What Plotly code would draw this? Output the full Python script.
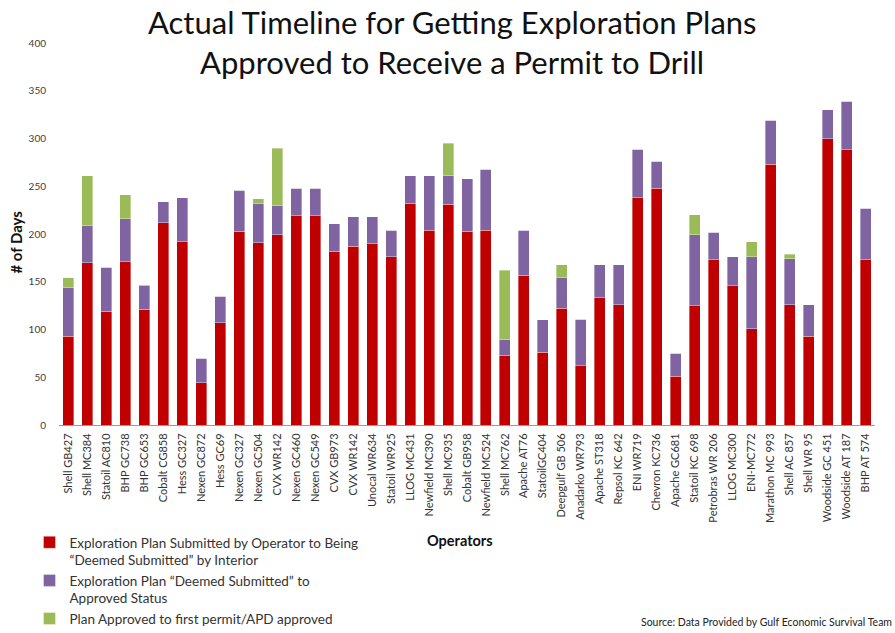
import plotly.graph_objects as go

operators = ["Shell GB427", "Shell MC384", "Statoil AC810", "BHP GC738", "BHP GC653",
             "Cobalt CG858", "Hess GC327", "Nexen GC872", "Hess GC69", "Nexen GC327",
             "Nexen GC504", "CVX WR142", "Nexen GC460", "Nexen GC549", "CVX GB973",
             "CVX WR142", "Unocal WR634", "Statoil WR925", "LLOG MC431", "Newfield MC390",
             "Shell MC935", "Cobalt GB958", "Newfield MC524", "Shell MC762", "Apache AT76",
             "StatoilGC404", "Deepgulf GB 506", "Anadarko WR793", "Apache ST318", "Repsol KC 642",
             "ENI WR719", "Chevron KC736", "Apache GC681", "Statoil KC 698", "Petrobras WR 206",
             "LLOG MC300", "ENI-MC772", "Marathon MC 993", "Shell AC 857", "Shell WR 95",
             "Woodside GC 451", "Woodside AT 187", "BHP AT 574"]

# cumulative tops
red_top = [93, 170, 119, 171, 121, 212, 192, 44, 107, 203,
           191, 199, 219, 219, 182, 187, 190, 176, 232, 204,
           231, 203, 204, 73, 157, 76, 122, 62, 133, 126,
           238, 248, 51, 125, 173, 146, 101, 273, 126, 93,
           300, 288, 173]
purple_top = [144, 209, 165, 216, 146, 234, 238, 70, 135, 246,
              232, 230, 248, 248, 211, 218, 218, 204, 261, 261,
              261, 258, 268, 90, 204, 110, 154, 111, 168, 168,
              289, 276, 75, 199, 202, 176, 176, 319, 174, 126,
              330, 339, 227]
green_top = [154, 261, 165, 241, 147, 234, 238, 70, 135, 246,
             237, 290, 248, 248, 211, 218, 218, 204, 261, 261,
             295, 258, 268, 162, 204, 110, 168, 111, 168, 168,
             289, 276, 75, 220, 202, 176, 192, 319, 179, 126,
             330, 339, 227]

stage1 = red_top
stage2 = [p - r for p, r in zip(purple_top, red_top)]
stage3 = [g - p for g, p in zip(green_top, purple_top)]

names = ["Exploration Plan Submitted by Operator to Being<br>\u201cDeemed Submitted\u201d by Interior",
         "Exploration Plan \u201cDeemed Submitted\u201d to<br>Approved Status",
         "Plan Approved to first permit/APD approved"]
colors = ["#C00000", "#8064A2", "#9BBB59"]
title_lines = ["Actual Timeline for Getting Exploration Plans",
               "Approved to Receive a Permit to Drill"]
source_text = "Source: Data Provided by Gulf Economic Survival Team"
x_title = "<b>Operators</b>"
y_title = "<b># of Days</b>"

xpos = list(range(len(operators)))

fig = go.Figure()
for vals, name, col in zip([stage1, stage2, stage3], names, colors):
    fig.add_trace(go.Bar(x=xpos, y=vals, name=name, marker_color=col,
                         marker_line=dict(width=0.6, color="rgba(255,255,255,0.6)")))

FONT = "Lato, 'Open Sans', sans-serif"
PLOT_LEFT = 58.5
PLOT_W = 817
PLOT_BOTTOM = 425
PLOT_H = 382

def px(xpx):
    return (xpx - PLOT_LEFT) / PLOT_W

def py(ypx):
    return (PLOT_BOTTOM - ypx) / PLOT_H

annotations = [
    dict(text=title_lines[0], xref="paper", yref="paper", x=px(452), y=py(22),
         xanchor="center", yanchor="middle", showarrow=False,
         font=dict(family=FONT, size=31, color="#111111")),
    dict(text=title_lines[1], xref="paper", yref="paper", x=px(452), y=py(62),
         xanchor="center", yanchor="middle", showarrow=False,
         font=dict(family=FONT, size=31, color="#111111")),
    dict(text=source_text, xref="paper", yref="paper", x=px(895), y=py(622),
         xanchor="right", yanchor="middle", showarrow=False,
         font=dict(family=FONT, size=10.5, color="#222222")),
    dict(text=x_title, xref="paper", yref="paper", x=px(460), y=py(540),
         xanchor="center", yanchor="middle", showarrow=False,
         font=dict(family=FONT, size=14.5, color="#111111")),
    dict(text=y_title, xref="paper", yref="paper", x=px(15), y=py(242),
         xanchor="center", yanchor="middle", showarrow=False, textangle=-90,
         font=dict(family=FONT, size=15, color="#111111")),
]

fig.update_layout(
    barmode="stack",
    bargap=0.42,
    width=895, height=633,
    margin=dict(l=58.5, r=19.5, t=43, b=208, autoexpand=False),
    plot_bgcolor="white", paper_bgcolor="white",
    font=dict(family=FONT, color="#404040"),
    showlegend=True,
    legend=dict(xref="container", yref="container", x=29.5 / 895, y=1 - 527 / 633,
                xanchor="left", yanchor="top",
                traceorder="normal", valign="top",
                font=dict(family=FONT, size=13.5, color="#333333"),
                bgcolor="rgba(0,0,0,0)"),
    xaxis=dict(tickmode="array", tickvals=xpos, ticktext=operators, tickangle=-90,
               range=[-0.5, len(operators) - 0.5], automargin=False,
               showline=True, linecolor="#9a9a9a", linewidth=1,
               showgrid=False, ticks="", tickfont=dict(size=11, color="#333333"),
               ticklabelstandoff=3),
    yaxis=dict(range=[0, 400], tickvals=[0, 50, 100, 150, 200, 250, 300, 350, 400],
               automargin=False,
               showgrid=False, showline=False, zeroline=False, ticks="",
               ticklabelstandoff=12,
               tickfont=dict(size=10, color="#404040")),
    annotations=annotations,
)

fig.write_html("out.html")
